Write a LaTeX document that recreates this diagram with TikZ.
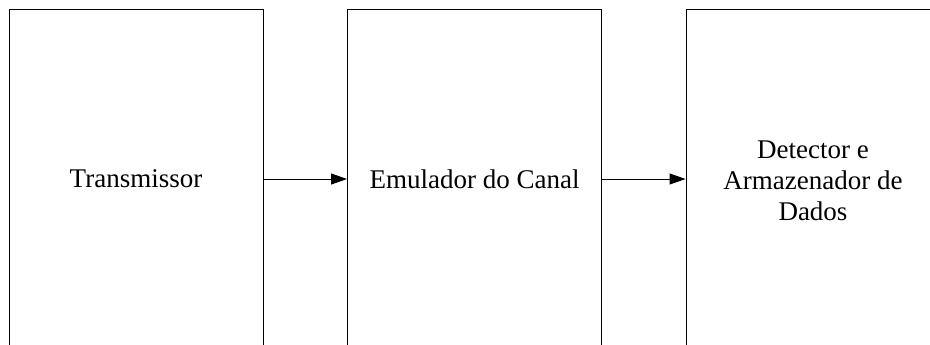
\documentclass[tikz,border=0pt]{standalone}
\usepackage{fontspec}
\setmainfont{Liberation Serif}
\usetikzlibrary{arrows.meta}
\begin{document}
\begin{tikzpicture}[x=1pt,y=-1pt,
  blockbox/.style={draw=black, line width=1pt, minimum width=254pt, minimum height=338pt,
    inner sep=0pt, align=center, font=\fontsize{27}{31}\selectfont},
  flow/.style={draw=black, line width=1pt, -{Triangle[length=16pt,width=11pt]}}]
\useasboundingbox (0,0) rectangle (930,345);
\clip (0,0) rectangle (930,345);
\node[blockbox] (t) at (136,179) {Transmissor};
\node[blockbox] (e) at (474.5,179) {Emulador do Canal};
\node[blockbox] (d) at (813,179) {\strut\\[-31pt]Detector e\\Armazenador de\\Dados};
\draw[flow] (t.east) -- (e.west);
\draw[flow] (e.east) -- (d.west);
\end{tikzpicture}
\end{document}
